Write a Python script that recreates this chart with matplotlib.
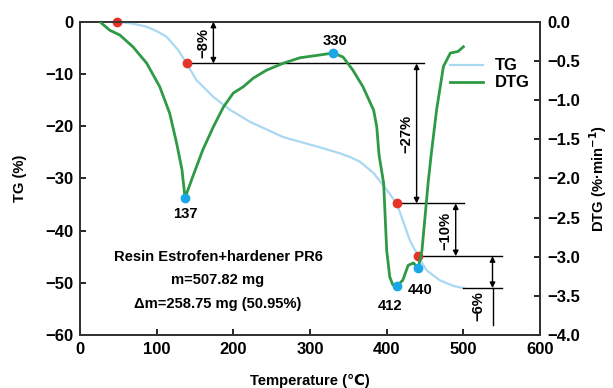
import matplotlib.pyplot as plt

# TG curve (%)
tg_temp = [27, 48, 70, 87, 100, 113, 128, 139, 152, 174, 196, 222, 240, 265, 309, 339, 352,
           365, 383, 400, 413, 421, 430, 441, 452, 469, 487, 500]
tg_val = [0, 0, -0.4, -0.96, -1.8, -2.9, -5.4, -8.0, -11.2, -14.4, -16.9, -19.2, -20.4,
          -22.1, -23.9, -25.2, -25.9, -26.8, -29.0, -32.2, -34.8, -38.0, -41.8, -44.9,
          -47.6, -49.5, -50.6, -51.0]

# DTG curve (%/min)
dtg_temp = [27, 39, 52, 69, 87, 104, 117, 126, 133, 137, 147, 160, 174, 187, 200, 213, 226,
            243, 265, 287, 309, 330, 343, 356, 369, 383, 387, 390, 396, 398, 400, 404, 408,
            413, 421, 428, 435, 441, 446, 450, 454, 458, 465, 474, 483, 493, 500]
dtg_val = [-0.01, -0.11, -0.17, -0.32, -0.53, -0.83, -1.17, -1.55, -1.89, -2.25, -1.98,
           -1.64, -1.34, -1.09, -0.91, -0.83, -0.72, -0.62, -0.53, -0.46, -0.43, -0.40,
           -0.45, -0.62, -0.83, -1.13, -1.34, -1.70, -2.06, -2.49, -2.92, -3.26, -3.36,
           -3.38, -3.30, -3.11, -3.08, -3.15, -2.92, -2.49, -2.06, -1.70, -1.13, -0.57,
           -0.40, -0.38, -0.32]

step_temp = [48, 139, 413, 441]
step_tg = [0, -8, -34.8, -44.9]
peak_temp = [137, 330, 413, 441]
peak_dtg = [-2.25, -0.40, -3.38, -3.15]
peak_labels = ['137', '330', '412', '440']

plt.rcParams['font.family'] = ['Liberation Sans', 'DejaVu Sans']
plt.rcParams['font.weight'] = 'bold'
plt.rcParams['axes.labelweight'] = 'bold'

fig = plt.figure(figsize=(6.13, 3.88), dpi=100)
ax = fig.add_axes([0.1305, 0.1366, 0.7505, 0.8074])
ax2 = ax.twinx()

blue = '#a9d8f2'
green = '#2e9a45'
ax.plot(tg_temp, tg_val, color=blue, lw=1.6, label='TG', zorder=3)
ax2.plot(dtg_temp, dtg_val, color=green, lw=2.0, label='DTG', zorder=3)

ax.set_xlim(0, 600)
ax.set_ylim(-60, 0)
ax2.set_ylim(-4.0, 0.0)
ax.set_xticks(range(0, 700, 100))
ax.set_yticks(range(-60, 10, 10))
ax2.set_yticks([-4.0, -3.5, -3.0, -2.5, -2.0, -1.5, -1.0, -0.5, 0.0])
ax2.set_yticklabels(['\u22124.0', '\u22123.5', '\u22123.0', '\u22122.5', '\u22122.0',
                     '\u22121.5', '\u22121.0', '\u22120.5', '0.0'])
for a in (ax, ax2):
    a.tick_params(direction='in', length=4, width=1.2, labelsize=12, pad=5)
    for s in a.spines.values():
        s.set_linewidth(1.3)
        s.set_color('#333333')

ax.set_xlabel('Temperature (\u2103)', fontsize=10.6, labelpad=12)
ax.set_ylabel('TG (%)', fontsize=10.6, labelpad=13)
ax2.set_ylabel('DTG (%\u00b7min$^{-1}$)', fontsize=10.6, labelpad=5)

# step markers and dimension lines (TG axis)
ax.plot(step_temp, step_tg, 'o', color='#e5332a', ms=6, zorder=5, clip_on=False)
ax2.plot(peak_temp, peak_dtg, 'o', color='#1aa7e8', ms=6, zorder=5)

lk = dict(color='black', lw=1.0, zorder=4)
ax.plot([139, 449], [-8, -8], **lk)
ax.plot([413, 501], [-34.8, -34.8], **lk)
ax.plot([441, 550], [-44.9, -44.9], **lk)
ax.plot([500, 550], [-51, -51], **lk)
ax.plot([538, 538], [-51, -58], **lk)

arr = dict(arrowstyle='<|-|>', color='black', lw=1.0, mutation_scale=8,
           shrinkA=0, shrinkB=0)
ax.annotate('', xy=(174, 0), xytext=(174, -8), arrowprops=arr)
ax.annotate('', xy=(439, -8), xytext=(439, -34.8), arrowprops=arr)
ax.annotate('', xy=(490, -34.8), xytext=(490, -44.9), arrowprops=arr)
ax.annotate('', xy=(538, -44.9), xytext=(538, -51), arrowprops=arr)

tk = dict(rotation=90, ha='center', va='center', fontsize=10.6)
ax.text(161, -4, '\u22128%', **tk)
ax.text(426, -21.5, '\u221227%', **tk)
ax.text(477, -40, '\u221210%', **tk)
ax.text(519, -54.5, '\u22126%', **tk)

ax.text(137, -36.8, peak_labels[0], ha='center', va='center', fontsize=10.6)
ax.text(332, -3.6, peak_labels[1], ha='center', va='center', fontsize=10.6)
ax.text(404, -54.4, peak_labels[2], ha='center', va='center', fontsize=10.6)
ax.text(444, -51.4, peak_labels[3], ha='center', va='center', fontsize=10.6)

ax.text(180, -45, 'Resin Estrofen+hardener PR6', ha='center', va='center', fontsize=10.6)
ax.text(180, -49.5, 'm=507.82 mg', ha='center', va='center', fontsize=10.6)
ax.text(180, -54, '\u0394m=258.75 mg (50.95%)', ha='center', va='center', fontsize=10.6)

h1, l1 = ax.get_legend_handles_labels()
h2, l2 = ax2.get_legend_handles_labels()
ax2.legend(h1 + h2, l1 + l2, loc='upper left', bbox_to_anchor=(0.804, 0.883), frameon=False,
           fontsize=12, handlelength=2.0, handletextpad=0.7, labelspacing=0.12,
           borderaxespad=0, borderpad=0)

fig.savefig('out.png', dpi=100)
